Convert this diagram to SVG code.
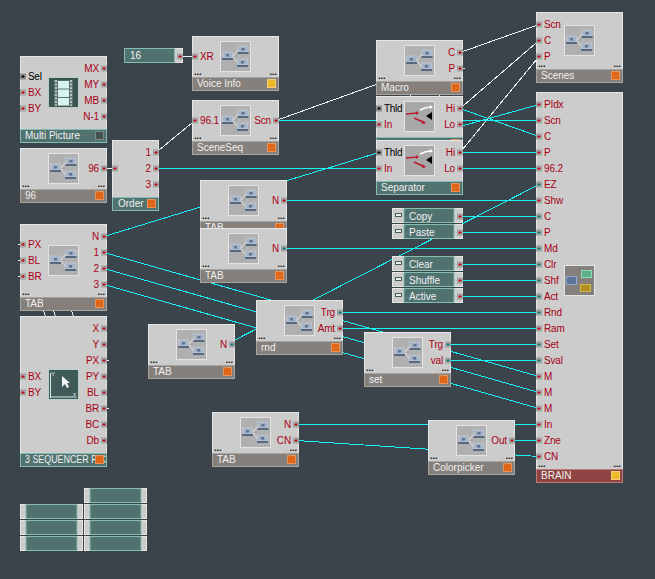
<svg xmlns="http://www.w3.org/2000/svg" width="655" height="579" viewBox="0 0 655 579">
<style>
text{font-family:"Liberation Sans",Arial,sans-serif;font-size:10px}
.b{fill:#cccccc;stroke:#e6e6e6}
.f{fill:#85807b;stroke:#a8a5a0}
.t{fill:#507370;stroke:#86bdb2}
.r{fill:#8f4444;stroke:#c07a78}
.l{fill:#a80014;letter-spacing:-.15px}
.le{fill:#a80014;text-anchor:end;letter-spacing:-.15px}
.k{fill:#000;letter-spacing:-.3px}
.w{fill:#f0f0f0}
.d{fill:#000;font-size:9px;font-weight:bold}
.de{fill:#000;font-size:9px;font-weight:bold;text-anchor:end}
.o{fill:#e0661a;stroke:#e8935a}
.y{fill:#f0b62c;stroke:#f3cf78}
.g{fill:#46504f;stroke:#7a8a88}
.c{stroke:#19f5f5;fill:none}
.h{stroke:#f2f2f2;fill:none}
.g2{fill:#cccccc;stroke:#e6e6e6}
</style>
<defs>
<g id="pr"><rect x="-3" y="-3" width="6" height="6" fill="#a3a3a3"/><path d="M-1.5-.5h1v-1h1v1h1v1h-1v1h-1v-1h-1z" fill="#c80014"/></g>
<g id="pt"><rect x="-3" y="-3" width="6" height="6" fill="#a3a3a3"/><path d="M-1.5-.5h1v-1h1v1h1v1h-1v1h-1v-1h-1z" fill="#007f7a"/></g>
<g id="pk"><rect x="-3" y="-3" width="6" height="6" fill="#8c8c8c"/><path d="M-1.5-.5h1v-1h1v1h1v1h-1v1h-1v-1h-1z" fill="#000"/></g>
<g id="lap"><rect x="0" y="0" width="10" height="6" fill="#a5b3c6" stroke="#c9d2dd" stroke-width=".6"/><rect x="3.5" y="2" width="3" height="2.5" fill="#5d7390"/><rect x="-.5" y="6" width="11" height="2" fill="#56697f"/></g>
<g id="ic"><rect x=".5" y=".5" width="30" height="30" fill="#b0b0b0" stroke="#e4e4e4"/><path d="M13 15l5-6M13 16l5 6" stroke="#e4e4e4" fill="none"/><use href="#lap" x="2.5" y="11"/><use href="#lap" x="18" y="5"/><use href="#lap" x="17.5" y="18"/></g>
<g id="sp"><rect x=".5" y=".5" width="30" height="30" fill="#a8a8a8" stroke="#e4e4e4"/><path d="M2 13l12-1" stroke="#b82030" stroke-width="1.5" fill="none"/><path d="M12 10l3 2-3 2z" fill="#b82030"/><path d="M10 17l11 5" stroke="#b82030" stroke-width="1.5" fill="none"/><path d="M18 19l4 3-4 1z" fill="#b82030"/><path d="M16 9q6-3 11-3" stroke="#fff" stroke-width="1.5" fill="none"/><path d="M26 4l3 2-3 2z" fill="#fff"/><path d="M22 15l6-4v8z" fill="#000"/></g>
<g id="btn"><rect x=".5" y=".5" width="70" height="14" class="g2"/><rect x="12" y="0.5" width="50" height="14" class="t"/><rect x="3.5" y="5.5" width="6" height="3" fill="#e8f0ee" stroke="#4a5f5c"/></g>
<g id="emp"><rect x=".5" y=".5" width="62" height="14" class="g2"/><rect x="6" y=".5" width="51" height="14" class="t"/></g>
</defs>
<rect width="655" height="579" fill="#3c444b"/>

<g id="connectors" shape-rendering="crispEdges">
<g class="h">
<path d="M180 56.5H195"/>
<path d="M104 168.5H115"/>
<path d="M156 152.5L195 120.5"/>
<path d="M276 120.5L400 76"/>
<path d="M460 52.5L539 24.5"/>
<path d="M460 108.5L539 40.5"/>
<path d="M460 152.5L539 56.5"/>
<path d="M460 68.5H465"/>
<path d="M410.5 94V98M439.5 94V98"/>
<path d="M43 309L46 318M53 309L56 318M71 309L74 318"/>
<path d="M107 360.5H109M107 408.5H109M18 244.5H20M18 260.5H20M18 276.5H20"/>
</g>
<g class="c">
<path d="M156 168.5H379"/>
<path d="M276 120.5H539"/>
<path d="M460 108.5L539 136.5"/>
<path d="M460 126.5L539 104.5"/>
<path d="M460 152.5H539"/>
<path d="M460 168.5H539"/>
<path d="M539 184.5L226 344.5"/>
<path d="M284 200.5H539"/>
<path d="M284 248.5H539"/>
<path d="M460 216.5H539"/>
<path d="M460 232.5H539"/>
<path d="M460 264.5H539"/>
<path d="M460 280.5H539"/>
<path d="M460 296.5H539"/>
<path d="M340 312.5H539"/>
<path d="M340 328.5H539"/>
<path d="M448 344.5H539"/>
<path d="M448 360.5H539"/>
<path d="M104 252.5L539 376.5"/>
<path d="M104 268.5L539 392.5"/>
<path d="M104 284.5L539 408.5"/>
<path d="M104 236.5L379 152.5"/>
<path d="M296 424.5H539"/>
<path d="M296 440.5L539 456.5"/>
<path d="M512 440.5H539"/>
</g>
</g>

<g id="multi-picture">
<rect x="20.5" y="56.5" width="86" height="86" class="b"/><rect x="20.5" y="129.5" width="86" height="13" class="t"/>
<rect x="48.5" y="77.5" width="30" height="30" fill="#3c5450" stroke="#b8d0cc"/>
<rect x="54" y="80" width="19" height="26" fill="#5e706e"/><rect x="58" y="81" width="11" height="7.5" fill="#d8f4f0"/><rect x="58" y="89.5" width="11" height="7.5" fill="#d8f4f0"/><rect x="58" y="98" width="11" height="7.5" fill="#d8f4f0"/>
<path d="M56 80v26M71 80v26" stroke="#b9cbc8" stroke-width="2" stroke-dasharray="2 1.5" fill="none"/>
<use href="#pk" x="23" y="76.5"/><use href="#pr" x="23" y="92.5"/><use href="#pr" x="23" y="108.5"/>
<use href="#pr" x="104" y="68.5"/><use href="#pr" x="104" y="84.5"/><use href="#pr" x="104" y="100.5"/><use href="#pr" x="104" y="116.5"/>
<text x="28" y="80" class="k">Sel</text><text x="28" y="96" class="l">BX</text><text x="28" y="112" class="l">BY</text>
<text x="99" y="72" class="le">MX</text><text x="99" y="88" class="le">MY</text><text x="99" y="104" class="le">MB</text><text x="99" y="120" class="le">N-1</text>
<text x="25" y="139" class="w">Multi Picture</text><rect x="95.5" y="131.5" width="8" height="8" class="g"/>
</g>

<g id="node-96">
<rect x="20.5" y="148.5" width="86" height="54" class="b"/><rect x="20.5" y="189.5" width="86" height="13" class="f"/>
<use href="#ic" x="48" y="153"/><use href="#pr" x="104" y="168.5"/>
<text x="99" y="172" class="le">96</text>
<text x="22" y="187" class="d">...</text><text x="105" y="187" class="de">...</text>
<text x="25" y="199" class="w">96</text><rect x="95.5" y="191.5" width="8" height="8" class="o"/>
</g>

<g id="order">
<rect x="112.5" y="140.5" width="46" height="70" class="b"/><rect x="112.5" y="197.5" width="46" height="13" class="t"/>
<use href="#pr" x="115" y="168.5"/><use href="#pr" x="156" y="152.5"/><use href="#pr" x="156" y="168.5"/><use href="#pr" x="156" y="184.5"/>
<text x="151" y="156" class="le">1</text><text x="151" y="172" class="le">2</text><text x="151" y="188" class="le">3</text>
<text x="118" y="207" class="w">Order</text><rect x="147.5" y="199.5" width="8" height="8" class="o"/>
</g>

<g id="knob-16">
<rect x="124.5" y="48.5" width="58" height="14" class="g2"/><rect x="124.5" y="48.5" width="50" height="14" class="t"/>
<use href="#pr" x="180" y="56.5"/><text x="130" y="59" class="w">16</text>
</g>

<g id="voice-info">
<rect x="192.5" y="36.5" width="86" height="54" class="b"/><rect x="192.5" y="77.5" width="86" height="13" class="f"/>
<use href="#ic" x="220" y="41"/><use href="#pr" x="195" y="56.5"/>
<text x="200" y="60" class="l">XR</text>
<text x="194" y="75" class="d">...</text><text x="277" y="75" class="de">...</text>
<text x="197" y="87" class="w">Voice Info</text><rect x="267.5" y="79.5" width="8" height="8" class="y"/>
</g>

<g id="sceneseq">
<rect x="192.5" y="100.5" width="86" height="54" class="b"/><rect x="192.5" y="141.5" width="86" height="13" class="f"/>
<use href="#ic" x="220" y="105"/><use href="#pr" x="195" y="120.5"/><use href="#pr" x="276" y="120.5"/>
<text x="200" y="124" class="l">96.1</text><text x="271" y="124" class="le">Scn</text>
<text x="194" y="139" class="d">...</text><text x="277" y="139" class="de">...</text>
<text x="197" y="151" class="w">SceneSeq</text><rect x="267.5" y="143.5" width="8" height="8" class="o"/>
</g>

<g id="macro">
<rect x="376.5" y="40.5" width="86" height="54" class="b"/><rect x="376.5" y="81.5" width="86" height="13" class="f"/>
<use href="#ic" x="404" y="45"/><use href="#pr" x="460" y="52.5"/><use href="#pr" x="460" y="68.5"/>
<text x="455" y="56" class="le">C</text><text x="455" y="72" class="le">P</text>
<text x="378" y="79" class="d">...</text><text x="461" y="79" class="de">...</text>
<text x="381" y="91" class="w">Macro</text><rect x="451.5" y="83.5" width="8" height="8" class="o"/>
</g>

<g id="separator-1">
<rect x="376.5" y="96.5" width="86" height="46" class="b"/><rect x="376.5" y="137.5" width="86" height="5" class="t"/>
<rect x="451.5" y="139.5" width="8" height="3" class="o"/>
<use href="#sp" x="404" y="101"/><use href="#pk" x="379" y="108.5"/><use href="#pr" x="379" y="124.5"/><use href="#pr" x="460" y="108.5"/><use href="#pr" x="460" y="124.5"/>
<text x="384" y="112" class="k">Thld</text><text x="384" y="128" class="l">In</text><text x="455" y="112" class="le">Hi</text><text x="455" y="128" class="le">Lo</text>
</g>

<g id="separator-2">
<rect x="376.5" y="140.5" width="86" height="54" class="b"/><rect x="376.5" y="181.5" width="86" height="13" class="t"/>
<use href="#sp" x="404" y="145"/><use href="#pk" x="379" y="152.5"/><use href="#pr" x="379" y="168.5"/><use href="#pr" x="460" y="152.5"/><use href="#pr" x="460" y="168.5"/>
<text x="384" y="156" class="k">Thld</text><text x="384" y="172" class="l">In</text><text x="455" y="156" class="le">Hi</text><text x="455" y="172" class="le">Lo</text>
<text x="381" y="191" class="w">Separator</text><rect x="451.5" y="183.5" width="8" height="8" class="o"/>
</g>

<g id="scenes">
<rect x="536.5" y="12.5" width="86" height="70" class="b"/><rect x="536.5" y="69.5" width="86" height="13" class="f"/>
<use href="#ic" x="564" y="25"/><use href="#pr" x="539" y="24.5"/><use href="#pr" x="539" y="40.5"/><use href="#pr" x="539" y="56.5"/>
<text x="544" y="28" class="l">Scn</text><text x="544" y="44" class="l">C</text><text x="544" y="60" class="l">P</text>
<text x="538" y="67" class="d">...</text><text x="621" y="67" class="de">...</text>
<text x="541" y="79" class="w">Scenes</text><rect x="611.5" y="71.5" width="8" height="8" class="o"/>
</g>

<g id="brain">
<rect x="536.5" y="92.5" width="86" height="390" class="b"/><rect x="536.5" y="469.5" width="86" height="13" class="r"/>
<rect x="564.5" y="265.5" width="30" height="30" fill="#85807b" stroke="#e4e4e4"/><rect x="566.5" y="276.5" width="10" height="8" fill="#5d7398" stroke="#8ea6d0"/><rect x="581.5" y="270.5" width="10" height="7" fill="#5fae8a" stroke="#8fd8b4"/><rect x="580.5" y="284.5" width="10" height="7" fill="#b09020" stroke="#d8b840"/>
<use href="#pr" x="539" y="104.5"/><use href="#pr" x="539" y="120.5"/><use href="#pr" x="539" y="136.5"/><use href="#pr" x="539" y="152.5"/><use href="#pr" x="539" y="168.5"/><use href="#pt" x="539" y="184.5"/><use href="#pr" x="539" y="200.5"/><use href="#pt" x="539" y="216.5"/><use href="#pt" x="539" y="232.5"/><use href="#pt" x="539" y="248.5"/><use href="#pt" x="539" y="264.5"/><use href="#pt" x="539" y="280.5"/><use href="#pt" x="539" y="296.5"/><use href="#pt" x="539" y="312.5"/><use href="#pr" x="539" y="328.5"/><use href="#pt" x="539" y="344.5"/><use href="#pt" x="539" y="360.5"/><use href="#pr" x="539" y="376.5"/><use href="#pr" x="539" y="392.5"/><use href="#pr" x="539" y="408.5"/><use href="#pr" x="539" y="424.5"/><use href="#pr" x="539" y="440.5"/><use href="#pr" x="539" y="456.5"/>
<text x="544" y="108" class="l">PIdx</text><text x="544" y="124" class="l">Scn</text><text x="544" y="140" class="l">C</text><text x="544" y="156" class="l">P</text><text x="544" y="172" class="l">96.2</text><text x="544" y="188" class="l">EZ</text><text x="544" y="204" class="l">Shw</text><text x="544" y="220" class="l">C</text><text x="544" y="236" class="l">P</text><text x="544" y="252" class="l">Md</text><text x="544" y="268" class="l">Clr</text><text x="544" y="284" class="l">Shf</text><text x="544" y="300" class="l">Act</text><text x="544" y="316" class="l">Rnd</text><text x="544" y="332" class="l">Ram</text><text x="544" y="348" class="l">Set</text><text x="544" y="364" class="l">Sval</text><text x="544" y="380" class="l">M</text><text x="544" y="396" class="l">M</text><text x="544" y="412" class="l">M</text><text x="544" y="428" class="l">In</text><text x="544" y="444" class="l">Zne</text><text x="544" y="460" class="l">CN</text>
<text x="538" y="467" class="d">...</text><text x="621" y="467" class="de">...</text>
<text x="541" y="479" class="w">BRAIN</text><rect x="611.5" y="471.5" width="8" height="8" class="y"/>
</g>

<g id="tab-1">
<rect x="200.5" y="180.5" width="86" height="54" class="b"/><rect x="200.5" y="221.5" width="86" height="13" class="f"/>
<use href="#ic" x="228" y="185"/><use href="#pr" x="284" y="200.5"/>
<text x="279" y="204" class="le">N</text>
<text x="202" y="219" class="d">...</text><text x="285" y="219" class="de">...</text>
<text x="205" y="231" class="w">TAB</text><rect x="275.5" y="223.5" width="8" height="8" class="o"/>
</g>

<g id="tab-2">
<rect x="200.5" y="228.5" width="86" height="54" class="b"/><rect x="200.5" y="269.5" width="86" height="13" class="f"/>
<use href="#ic" x="228" y="233"/><use href="#pt" x="284" y="248.5"/>
<text x="279" y="252" class="le">N</text>
<text x="202" y="267" class="d">...</text><text x="285" y="267" class="de">...</text>
<text x="205" y="279" class="w">TAB</text><rect x="275.5" y="271.5" width="8" height="8" class="o"/>
</g>

<g id="tab-left">
<rect x="20.5" y="224.5" width="86" height="86" class="b"/><rect x="20.5" y="297.5" width="86" height="13" class="f"/>
<use href="#ic" x="48" y="245"/><use href="#pr" x="23" y="244.5"/><use href="#pr" x="23" y="260.5"/><use href="#pr" x="23" y="276.5"/>
<use href="#pr" x="104" y="236.5"/><use href="#pr" x="104" y="252.5"/><use href="#pr" x="104" y="268.5"/><use href="#pr" x="104" y="284.5"/>
<text x="28" y="248" class="l">PX</text><text x="28" y="264" class="l">BL</text><text x="28" y="280" class="l">BR</text>
<text x="99" y="240" class="le">N</text><text x="99" y="256" class="le">1</text><text x="99" y="272" class="le">2</text><text x="99" y="288" class="le">3</text>
<text x="22" y="295" class="d">...</text><text x="105" y="295" class="de">...</text>
<text x="25" y="307" class="w">TAB</text><rect x="95.5" y="299.5" width="8" height="8" class="o"/>
</g>

<g id="sequencer">
<rect x="20.5" y="316.5" width="86" height="150" class="b"/><rect x="20.5" y="453.5" width="86" height="13" class="t"/>
<rect x="48.5" y="369.5" width="30" height="30" fill="#3f5a58" stroke="#b8d0cc"/>
<path d="M50.5 373v25M50.5 397h26" stroke="#dfe8e6" fill="none"/><path d="M62 376v11l3-3 2 4 2-1-2-4h3z" fill="#f4f4f4"/>
<text x="51" y="376" class="w" style="font-size:6px">Y</text><text x="73" y="396" class="w" style="font-size:6px">x</text>
<use href="#pr" x="23" y="376.5"/><use href="#pr" x="23" y="392.5"/>
<use href="#pr" x="104" y="328.5"/><use href="#pr" x="104" y="344.5"/><use href="#pr" x="104" y="360.5"/><use href="#pr" x="104" y="376.5"/><use href="#pr" x="104" y="392.5"/><use href="#pr" x="104" y="408.5"/><use href="#pr" x="104" y="424.5"/><use href="#pr" x="104" y="440.5"/>
<text x="28" y="380" class="l">BX</text><text x="28" y="396" class="l">BY</text>
<text x="99" y="332" class="le">X</text><text x="99" y="348" class="le">Y</text><text x="99" y="364" class="le">PX</text><text x="99" y="380" class="le">PY</text><text x="99" y="396" class="le">BL</text><text x="99" y="412" class="le">BR</text><text x="99" y="428" class="le">BC</text><text x="99" y="444" class="le">Db</text>
<text x="25" y="463" class="w" textLength="81" lengthAdjust="spacingAndGlyphs">3 SEQUENCER PIC</text><rect x="95.5" y="455.5" width="8" height="8" class="o"/>
</g>

<g id="tab-mid">
<rect x="148.5" y="324.5" width="86" height="54" class="b"/><rect x="148.5" y="365.5" width="86" height="13" class="f"/>
<use href="#ic" x="176" y="329"/><use href="#pt" x="232" y="344.5"/>
<text x="227" y="348" class="le">N</text>
<text x="150" y="363" class="d">...</text><text x="233" y="363" class="de">...</text>
<text x="153" y="375" class="w">TAB</text><rect x="223.5" y="367.5" width="8" height="8" class="o"/>
</g>

<g id="rnd">
<rect x="256.5" y="300.5" width="86" height="54" class="b"/><rect x="256.5" y="341.5" width="86" height="13" class="f"/>
<use href="#ic" x="284" y="305"/><use href="#pt" x="340" y="312.5"/><use href="#pr" x="340" y="328.5"/>
<text x="335" y="316" class="le">Trg</text><text x="335" y="332" class="le">Amt</text>
<text x="258" y="339" class="d">...</text><text x="341" y="339" class="de">...</text>
<text x="261" y="351" class="w">rnd</text><rect x="331.5" y="343.5" width="8" height="8" class="o"/>
</g>

<g id="set">
<rect x="364.5" y="332.5" width="86" height="54" class="b"/><rect x="364.5" y="373.5" width="86" height="13" class="f"/>
<use href="#ic" x="392" y="337"/><use href="#pt" x="448" y="344.5"/><use href="#pt" x="448" y="360.5"/>
<text x="443" y="348" class="le">Trg</text><text x="443" y="364" class="le">val</text>
<text x="366" y="371" class="d">...</text><text x="449" y="371" class="de">...</text>
<text x="369" y="383" class="w">set</text><rect x="439.5" y="375.5" width="8" height="8" class="o"/>
</g>

<g id="btn-copy"><use href="#btn" x="392" y="208"/><use href="#pr" x="460" y="216.5"/><text x="409" y="220" class="w">Copy</text></g>
<g id="btn-paste"><use href="#btn" x="392" y="224"/><use href="#pr" x="460" y="232.5"/><text x="409" y="236" class="w">Paste</text></g>
<g id="btn-clear"><use href="#btn" x="392" y="256"/><use href="#pr" x="460" y="264.5"/><text x="409" y="268" class="w">Clear</text></g>
<g id="btn-shuffle"><use href="#btn" x="392" y="272"/><use href="#pr" x="460" y="280.5"/><text x="409" y="284" class="w">Shuffle</text></g>
<g id="btn-active"><use href="#btn" x="392" y="288"/><use href="#pr" x="460" y="296.5"/><text x="409" y="300" class="w">Active</text></g>

<g id="tab-bottom">
<rect x="212.5" y="412.5" width="86" height="54" class="b"/><rect x="212.5" y="453.5" width="86" height="13" class="f"/>
<use href="#ic" x="240" y="417"/><use href="#pr" x="296" y="424.5"/><use href="#pr" x="296" y="440.5"/>
<text x="291" y="428" class="le">N</text><text x="291" y="444" class="le">CN</text>
<text x="214" y="451" class="d">...</text><text x="297" y="451" class="de">...</text>
<text x="217" y="463" class="w">TAB</text><rect x="287.5" y="455.5" width="8" height="8" class="o"/>
</g>

<g id="colorpicker">
<rect x="428.5" y="420.5" width="86" height="54" class="b"/><rect x="428.5" y="461.5" width="86" height="13" class="f"/>
<use href="#ic" x="456" y="425"/><use href="#pr" x="512" y="440.5"/>
<text x="507" y="444" class="le">Out</text>
<text x="430" y="459" class="d">...</text><text x="513" y="459" class="de">...</text>
<text x="433" y="471" class="w">Colorpicker</text><rect x="503.5" y="463.5" width="8" height="8" class="o"/>
</g>

<g id="empty-blocks">
<use href="#emp" x="20" y="504"/><use href="#emp" x="20" y="520"/><use href="#emp" x="20" y="536"/>
<use href="#emp" x="84" y="488"/><use href="#emp" x="84" y="504"/><use href="#emp" x="84" y="520"/><use href="#emp" x="84" y="536"/>
</g>
</svg>
